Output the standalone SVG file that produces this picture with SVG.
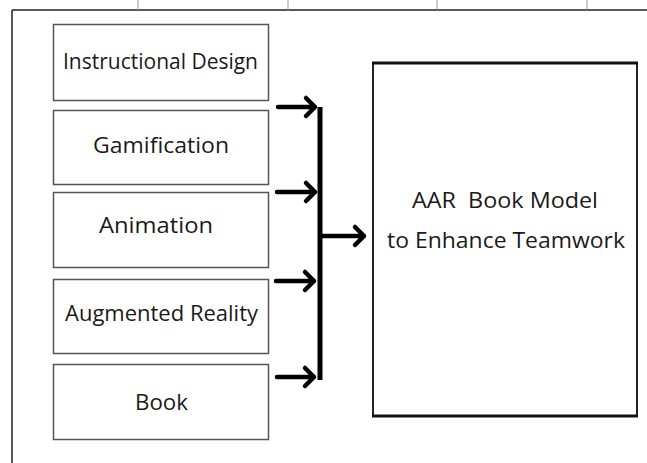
<svg xmlns="http://www.w3.org/2000/svg" width="647" height="463" viewBox="0 0 647 463">
<style>
.box{fill:#fff;stroke:#555;stroke-width:1.5}
.lbl{font-family:"Open Sans","Noto Sans",sans-serif;fill:#1a1a1a;text-anchor:middle;font-size:21px}
.arr{fill:none;stroke:#000;stroke-width:4.5;stroke-linecap:round;stroke-linejoin:round}
.frame{stroke:#222;stroke-width:1.5}
.tick{stroke:#999;stroke-width:1}
</style>
<rect width="647" height="463" fill="#fff"/>
<g id="frame">
<line class="frame" x1="12" y1="10" x2="647" y2="10"/>
<line class="frame" x1="12" y1="10" x2="12" y2="463"/>
<line class="tick" x1="138" y1="0" x2="138" y2="10"/>
<line class="tick" x1="288" y1="0" x2="288" y2="10"/>
<line class="tick" x1="437" y1="0" x2="437" y2="10"/>
<line class="tick" x1="587" y1="0" x2="587" y2="10"/>
</g>
<g id="n1"><rect class="box" x="53.5" y="24.5" width="215" height="76"/><text class="lbl" x="160.5" y="69" textLength="195" lengthAdjust="spacingAndGlyphs">Instructional Design</text></g>
<g id="n2"><rect class="box" x="53.5" y="110.5" width="215" height="74"/><text class="lbl" x="161" y="153" font-size="22" textLength="136" lengthAdjust="spacingAndGlyphs">Gamification</text></g>
<g id="n3"><rect class="box" x="53.5" y="192.5" width="215" height="75"/><text class="lbl" x="156" y="233" font-size="22" textLength="114" lengthAdjust="spacingAndGlyphs">Animation</text></g>
<g id="n4"><rect class="box" x="53.5" y="279.5" width="215" height="74"/><text class="lbl" x="161.5" y="321" font-size="20" textLength="193" lengthAdjust="spacingAndGlyphs">Augmented Reality</text></g>
<g id="n5"><rect class="box" x="53.5" y="364.5" width="215" height="75"/><text class="lbl" x="161.5" y="410" font-size="22" textLength="53" lengthAdjust="spacingAndGlyphs">Book</text></g>
<g id="n6">
<rect x="373" y="63" width="264" height="353" fill="#fff" stroke="#222" stroke-width="2"/>
<line x1="372" y1="63" x2="638" y2="63" stroke="#111" stroke-width="3"/>
<line x1="372" y1="416" x2="638" y2="416" stroke="#111" stroke-width="3"/>
<text class="lbl" x="505" y="208" font-size="22" textLength="186" lengthAdjust="spacingAndGlyphs" xml:space="preserve">AAR  Book Model</text>
<text class="lbl" x="506" y="248" font-size="22" textLength="238" lengthAdjust="spacingAndGlyphs">to Enhance Teamwork</text>
</g>
<g id="connectors">
<line x1="320" y1="107" x2="320" y2="380" stroke="#000" stroke-width="5"/>
<path class="arr" d="M278 107H315M306 98L315 107L306 116"/>
<path class="arr" d="M277 192H315M306 183L315 192L306 201"/>
<path class="arr" d="M276 281H314M305 272L314 281L305 290"/>
<path class="arr" d="M277 377H314M305 368L314 377L305 386"/>
<path class="arr" d="M322 236H364M355 227L364 236L355 245"/>
</g>
</svg>
